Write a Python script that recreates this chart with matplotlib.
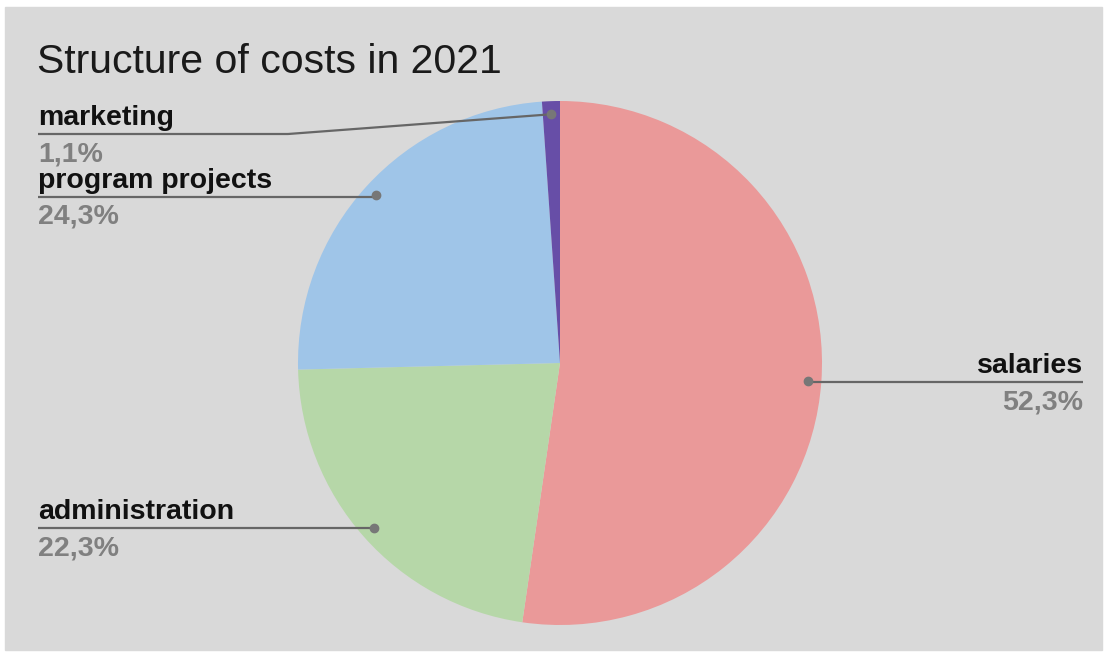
import numpy as np
import matplotlib
matplotlib.use("Agg")
import matplotlib.pyplot as plt
from matplotlib.patches import Rectangle

# data
categories = ["salaries", "administration", "program projects", "marketing"]
shares = [52.3, 22.3, 24.3, 1.1]
pct_labels = ["52,3%", "22,3%", "24,3%", "1,1%"]
colors = ["#ea9999", "#b6d7a8", "#9fc5e8", "#674ea7"]

# label placement (pixel coords, y measured from top)
label_x = [1083, 38, 38, 38]
label_y = [382, 528, 197, 134]
elbow_x = [None, None, None, 288]

W, H = 1105, 653
plt.rcParams["font.family"] = ["Liberation Sans", "DejaVu Sans"]

fig = plt.figure(figsize=(W / 100, H / 100), dpi=100)
ax = fig.add_axes([0, 0, 1, 1])

cx, cy, R = 560, H - 363, 262
wedges, _ = ax.pie(shares, colors=colors, startangle=90, counterclock=False,
                   center=(cx, cy), radius=R, wedgeprops=dict(linewidth=0))
for w in wedges:
    w.set_zorder(2)

ax.set_xlim(0, W)
ax.set_ylim(0, H)
ax.set_aspect("equal")
ax.axis("off")
ax.add_patch(Rectangle((5, 3), 1097, 643, color="#d9d9d9", zorder=0))

ax.text(37, H - 73, "Structure of costs in 2021", fontsize=29.5,
        color="#1a1a1a", va="baseline", ha="left")

for w, name, pct, lx, ly, ex in zip(wedges, categories, pct_labels,
                                     label_x, label_y, elbow_x):
    mid = np.deg2rad((w.theta1 + w.theta2) / 2)
    dx = cx + 0.95 * R * np.cos(mid)
    dy = cy + 0.95 * R * np.sin(mid)
    y = H - ly
    ex = dx if ex is None else ex
    ax.plot([dx, ex, lx], [dy, y, y], color="#666666", lw=1.6,
            solid_capstyle="butt", zorder=3)
    ax.plot(dx, dy, "o", color="#777777", ms=6, zorder=4)
    ha = "right" if lx > cx else "left"
    ax.text(lx, y + 9, name, fontsize=20.5, fontweight="bold", color="#111111",
            ha=ha, va="baseline")
    ax.text(lx, y - 7, pct, fontsize=20.5, fontweight="bold", color="#808080",
            ha=ha, va="top")

fig.savefig("out.png", dpi=100, facecolor="white")
